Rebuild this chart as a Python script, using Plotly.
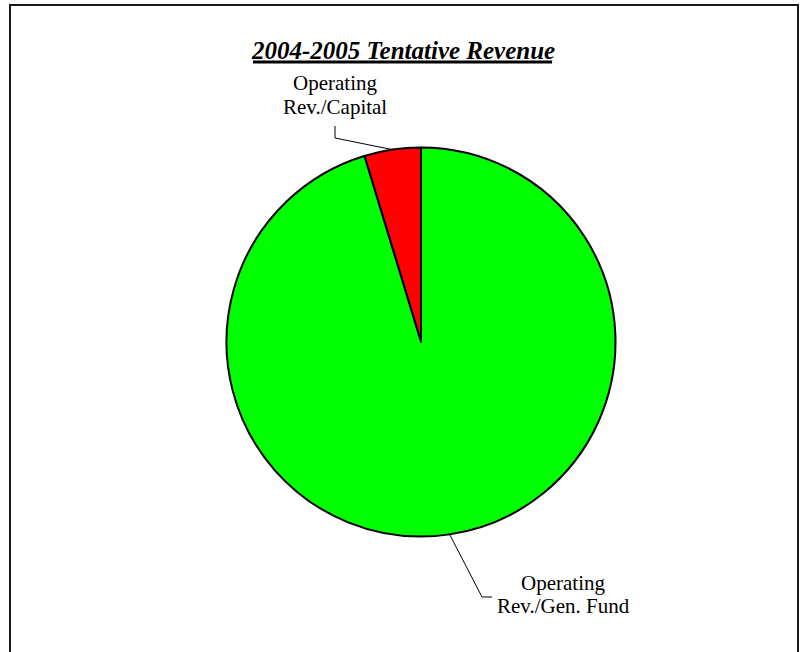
import math
import plotly.graph_objects as go

# Revenue split (percent of total)
categories = ["Operating<br>Rev./Capital", "Operating<br>Rev./Gen. Fund"]
shares = [4.7, 95.3]
colors = ["#FF0000", "#00FF00"]
title_text = "2004-2005 Tentative Revenue"

W, H = 801, 652
CX, CY, R = 421, 342, 194.5          # pie centre and radius in pixels
SERIF = "Liberation Serif, Times New Roman, serif"
LABEL_SIZE = 21
LINE_GAP = 23                          # pixels between label lines

# label text centre, elbow of the leader line, and end of the leader tick (pixels)
label_pos = [(335, 95), (563, 594)]
elbow_pos = [(335, 138), (482, 597)]
tick_end = [(335, 126), (492, 597)]


def px(x):
    return x / W


def py(y):
    return 1 - y / H


total = sum(shares)
# start the first slice so that it ends at 12 o'clock
start_rotation = -360.0 * shares[0] / total

fig = go.Figure(
    go.Pie(
        labels=categories,
        values=shares,
        sort=False,
        direction="clockwise",
        rotation=start_rotation,
        marker=dict(colors=colors, line=dict(color="black", width=2)),
        textinfo="none",
        hoverinfo="label+percent",
        showlegend=False,
        domain=dict(x=[px(CX - R), px(CX + R)], y=[py(CY + R), py(CY - R)]),
    )
)

shapes = [
    # outer frame
    dict(type="rect", xref="paper", yref="paper",
         x0=px(10), x1=px(798), y0=py(680), y1=py(5),
         line=dict(color="#1a1a1a", width=2), fillcolor="rgba(0,0,0,0)"),
    # title underline
    dict(type="line", xref="paper", yref="paper",
         x0=px(253), x1=px(552), y0=py(62), y1=py(62),
         line=dict(color="black", width=3)),
]
annotations = []

cum = 0.0
for i, v in enumerate(shares):
    # slices run counter-clockwise from 12 o'clock
    theta = 2 * math.pi * (cum + v / 2) / total
    cum += v
    ax = CX - R * math.sin(theta)
    ay = CY - R * math.cos(theta)
    ex, ey = elbow_pos[i]
    tx, ty = tick_end[i]
    shapes.append(dict(
        type="path", xref="paper", yref="paper",
        path=f"M {px(ax)} {py(ay)} L {px(ex)} {py(ey)} L {px(tx)} {py(ty)}",
        line=dict(color="black", width=1),
    ))
    lx, ly = label_pos[i]
    lines = categories[i].split("<br>")
    y0 = ly - LINE_GAP * (len(lines) - 1) / 2
    for k, line in enumerate(lines):
        annotations.append(dict(
            text=line, x=px(lx), y=py(y0 + k * LINE_GAP),
            xref="paper", yref="paper",
            xanchor="center", yanchor="middle", showarrow=False,
            font=dict(family=SERIF, size=LABEL_SIZE, color="black"),
        ))

annotations.append(dict(
    text=f"<b><i>{title_text}</i></b>", x=px(402.5), y=py(50),
    xref="paper", yref="paper", xanchor="center", yanchor="middle",
    showarrow=False, font=dict(family=SERIF, size=25, color="black"),
))

fig.update_layout(
    width=W, height=H,
    margin=dict(l=0, r=0, t=0, b=0),
    paper_bgcolor="white", plot_bgcolor="white",
    shapes=shapes, annotations=annotations,
)

fig.write_html("out.html")
